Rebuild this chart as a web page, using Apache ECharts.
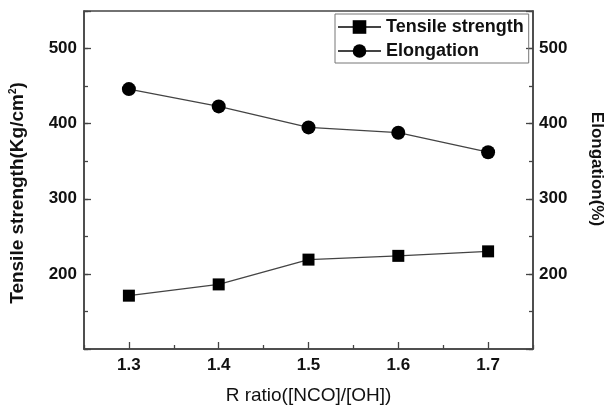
<!DOCTYPE html>
<html lang="en" style="height: 100%">
<head>
  <meta charset="utf-8">
</head>
<body style="height: 100%; margin: 0; background: #fff">
  <div id="container" style="width: 613px; height: 410px"></div>

  <script type="text/javascript" src="https://cdn.jsdelivr.net/npm/echarts@6/dist/echarts.min.js"></script>

  <script type="text/javascript">
    var ratios = ['1.3', '1.4', '1.5', '1.6', '1.7'];
    var tensileStrength = [171, 186, 219, 224, 230];
    var elongation = [446, 423, 395, 388, 362];
    var yLabels = [200, 300, 400, 500];

    var font = 'Liberation Sans';
    var axisColor = '#444';

    var dom = document.getElementById('container');
    var myChart = echarts.init(dom, null, { renderer: 'canvas' });

    function yFormatter(v) {
      return yLabels.indexOf(v) >= 0 ? String(v) : '';
    }

    function mainY(pos, name, extra) {
      return Object.assign({
        type: 'value',
        position: pos,
        min: 100,
        max: 550,
        interval: 100,
        name: name,
        nameLocation: 'middle',
        axisLine: { show: true, lineStyle: { color: axisColor, width: 1.5 } },
        axisTick: { show: true, inside: true, length: 7, lineStyle: { color: axisColor, width: 1.3 } },
        axisLabel: {
          margin: 7, color: '#111', fontFamily: font, fontWeight: 'bold', fontSize: 17,
          formatter: yFormatter
        },
        splitLine: { show: false }
      }, extra);
    }

    function minorY(pos) {
      return {
        type: 'value',
        position: pos,
        min: 100,
        max: 550,
        interval: 50,
        axisLine: { show: false },
        axisTick: { show: true, inside: true, length: 4, lineStyle: { color: axisColor, width: 1.3 } },
        axisLabel: { show: false },
        splitLine: { show: false }
      };
    }

    var option = {
      animation: false,
      backgroundColor: '#fff',
      grid: {
        left: 83, right: 76, top: 11, bottom: 59,
        show: true, borderColor: axisColor, borderWidth: 1.5
      },
      legend: {
        orient: 'vertical',
        left: 335,
        top: 14,
        padding: [4, 5, 3, 2],
        itemWidth: 43,
        itemHeight: 17,
        itemGap: 6,
        borderColor: '#777',
        borderWidth: 1,
        textStyle: { fontFamily: font, fontWeight: 'bold', fontSize: 18, color: '#111' },
        data: ['Tensile strength', 'Elongation']
      },
      xAxis: [
        {
          type: 'category',
          data: ratios,
          position: 'bottom',
          boundaryGap: true,
          name: 'R ratio([NCO]/[OH])',
          nameLocation: 'middle',
          nameGap: 37,
          nameTextStyle: { fontFamily: font, fontSize: 19, color: '#111' },
          axisLine: { show: true, lineStyle: { color: axisColor, width: 1.5 } },
          axisTick: { show: true, inside: true, alignWithLabel: false, length: 4, lineStyle: { color: axisColor, width: 1.3 } },
          axisLabel: { margin: 8, color: '#111', fontFamily: font, fontWeight: 'bold', fontSize: 17 },
          splitLine: { show: false }
        },
        {
          type: 'category',
          data: ratios,
          position: 'bottom',
          boundaryGap: true,
          axisLine: { show: false },
          axisTick: { show: true, inside: true, alignWithLabel: true, length: 7, lineStyle: { color: axisColor, width: 1.3 } },
          axisLabel: { show: false },
          splitLine: { show: false }
        }
      ],
      yAxis: [
        mainY('left', '{a|Tensile strength(Kg/cm}{s|2}{a|)}', {
          nameGap: 56,
          nameTextStyle: {
            padding: [0, 26, 0, 0],
            rich: {
              a: { fontFamily: font, fontWeight: 'bold', fontSize: 19, color: '#111', lineHeight: 20 },
              s: { fontFamily: font, fontWeight: 'bold', fontSize: 10, color: '#111', lineHeight: 20, verticalAlign: 'top' }
            }
          }
        }),
        mainY('right', 'Elongation(%)', {
          nameGap: 55,
          nameRotate: -90,
          nameTextStyle: {
            padding: [0, 22, 0, 0],
            fontFamily: font, fontWeight: 'bold', fontSize: 17, color: '#111'
          },
          axisLabel: {
            margin: 6, color: '#111', fontFamily: font, fontWeight: 'bold', fontSize: 17,
            formatter: yFormatter
          }
        }),
        minorY('left'),
        minorY('right')
      ],
      series: [
        {
          name: 'Tensile strength',
          type: 'line',
          xAxisIndex: 0,
          yAxisIndex: 0,
          data: tensileStrength,
          symbol: 'rect',
          symbolSize: 12,
          itemStyle: { color: '#000' },
          lineStyle: { color: '#444', width: 1.3 }
        },
        {
          name: 'Elongation',
          type: 'line',
          xAxisIndex: 0,
          yAxisIndex: 1,
          data: elongation,
          symbol: 'circle',
          symbolSize: 14,
          itemStyle: { color: '#000' },
          lineStyle: { color: '#444', width: 1.3 }
        }
      ]
    };

    myChart.setOption(option);

    window.addEventListener('resize', function() {
      myChart.resize();
    });
  </script>
</body>
</html>
